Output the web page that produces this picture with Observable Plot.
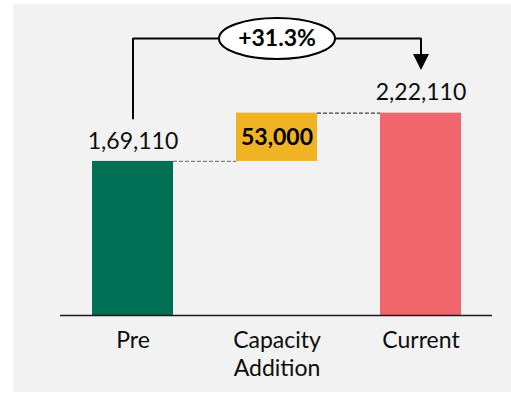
<!DOCTYPE html>
<html>
<head>
<meta charset="utf-8">
<script src="https://cdn.jsdelivr.net/npm/d3@7"></script>
<script src="https://cdn.jsdelivr.net/npm/@observablehq/plot@0.6"></script>
<style>
  body { margin: 0; background: #ffffff; }
  #chart { position: absolute; left: 13px; top: 4px; }
  #chart svg { display: block; }
</style>
</head>
<body>
<div id="chart"></div>
<script>
// Waterfall: starting capacity, the addition, and the resulting total
const categories = ["Pre", "Capacity Addition", "Current"];
const tickLabels = ["Pre", "Capacity\nAddition", "Current"];
const values = [169110, 53000, 222110];
const steps = ["total", "delta", "total"];
const fills = ["#007055", "#F0B323", "#F1666D"];

let running = 0;
const rows = categories.map((category, i) => {
  const total = steps[i] === "total";
  const y1 = total ? 0 : running;
  const y2 = total ? values[i] : running + values[i];
  running = y2;
  return {category, tick: tickLabels[i], value: values[i], y1, y2, fill: fills[i]};
});
const [start, delta, end] = rows;

// Indian digit grouping: 1,69,110
const indian = d3.formatLocale({decimal: ".", thousands: ",", grouping: [3, 2], currency: ["₹", ""]}).format(",d");
const change = d3.format("+.1%")(end.value / start.value - 1);

const W = 498, H = 388, mTop = 34, mBottom = 77, mLeft = 78, mRight = 50;
const yMax = 304000;
const k = yMax / (H - mTop - mBottom); // value units per pixel
const padInner = 0.44;
const bw = (W - mLeft - mRight) / (categories.length - padInner) * (1 - padInner);

// Oval badge behind the percentage change
const ellipse = {
  draw(ctx) {
    const rx = 58, ry = 20.5, c = 0.5523;
    ctx.moveTo(rx, 0);
    ctx.bezierCurveTo(rx, c * ry, c * rx, ry, 0, ry);
    ctx.bezierCurveTo(-c * rx, ry, -rx, c * ry, -rx, 0);
    ctx.bezierCurveTo(-rx, -c * ry, -c * rx, -ry, 0, -ry);
    ctx.bezierCurveTo(c * rx, -ry, rx, -c * ry, rx, 0);
    ctx.closePath();
  }
};
// Downward arrow head, tip at the origin
const arrowHead = {
  draw(ctx) {
    ctx.moveTo(0, 0);
    ctx.lineTo(-8, -16);
    ctx.lineTo(8, -16);
    ctx.closePath();
  }
};

const connectors = [
  {from: start.category, to: delta.category, y: start.y2, stroke: "#7f7f7f"},
  {from: delta.category, to: end.category, y: delta.y2, stroke: "#404040"}
];

const bracket = [
  {x: start.category, y: start.y2 + 43 * k},
  {x: start.category, y: yMax},
  {x: end.category, y: yMax},
  {x: end.category, y: end.y2 + 50 * k}
];

const chart = Plot.plot({
  width: W,
  height: H,
  marginTop: mTop,
  marginBottom: mBottom,
  marginLeft: mLeft,
  marginRight: mRight,
  style: {fontFamily: "Lato", background: "#f2f2f2", color: "#0d0d0d", overflow: "visible"},
  x: {type: "band", domain: categories, paddingInner: padInner, paddingOuter: 0, axis: null},
  y: {domain: [0, yMax], axis: null},
  marks: [
    Plot.ruleY(connectors, {y: "y", x1: "from", x2: "to", stroke: "stroke", strokeWidth: 1.2, strokeDasharray: "4,2", insetLeft: bw, insetRight: bw}),
    Plot.barY(rows, {x: "category", y1: "y1", y2: "y2", fill: "fill"}),
    Plot.ruleY([0], {stroke: "#1a1a1a", strokeWidth: 1.5, insetLeft: -31, insetRight: -31}),
    Plot.line(bracket, {x: "x", y: "y", stroke: "#000", strokeWidth: 2, strokeLinejoin: "miter"}),
    Plot.dot([end], {x: "category", y: "y2", symbol: arrowHead, fill: "#000", stroke: null, dy: -43}),
    Plot.dot([delta], {x: "category", y: () => yMax, symbol: ellipse, fill: "#ffffff", stroke: "#000", strokeWidth: 2}),
    Plot.text([change], {x: () => delta.category, y: () => yMax, text: (d) => d, fontSize: 23, fontWeight: "bold", fill: "#000"}),
    Plot.text([start, end], {x: "category", y: "y2", text: (d) => indian(d.value), dy: -20, fontSize: 23, fill: "#0d0d0d"}),
    Plot.text([delta], {x: "category", y: (d) => (d.y1 + d.y2) / 2, text: (d) => indian(d.value), fontSize: 23, fontWeight: "bold", fill: "#000"}),
    Plot.text(rows, {x: "category", frameAnchor: "bottom", text: "tick", lineAnchor: "top", dy: 13, lineHeight: 1.2, fontSize: 23, fill: "#0d0d0d"})
  ]
});

document.getElementById("chart").append(chart);
</script>
</body>
</html>
